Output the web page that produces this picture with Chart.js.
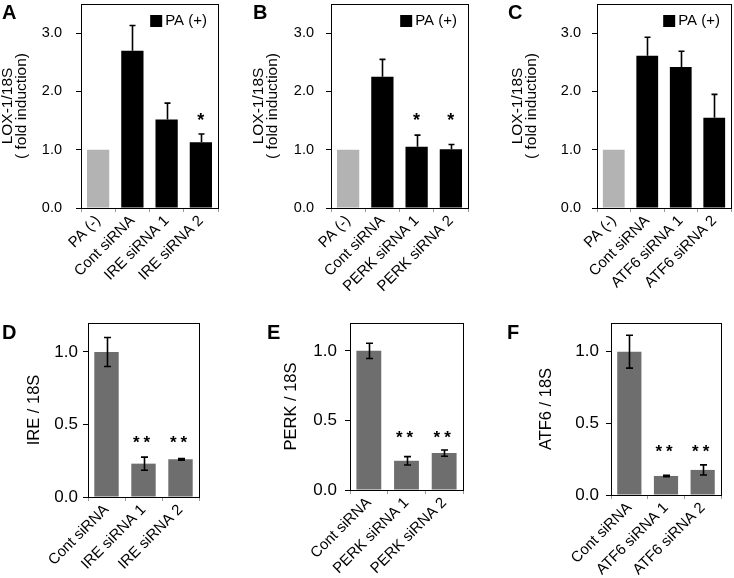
<!DOCTYPE html>
<html>
<head>
<meta charset="utf-8">
<script src="https://cdn.jsdelivr.net/npm/chart.js@4.4.1/dist/chart.umd.min.js"></script>
<style>
  body { margin: 0; background: #fff; }
  #wrap { position: relative; width: 734px; height: 578px; overflow: hidden; font-family: "Liberation Sans", Arial, sans-serif; }
  canvas { position: absolute; }
  .letter { position: absolute; font: bold 20px "Liberation Sans", Arial, sans-serif; color: #000; line-height: 20px; }
</style>
</head>
<body>
<div id="wrap">
  <canvas id="cA" width="240" height="300" style="left:0;top:0"></canvas>
  <canvas id="cB" width="245" height="300" style="left:240px;top:0"></canvas>
  <canvas id="cC" width="249" height="300" style="left:485px;top:0"></canvas>
  <canvas id="cD" width="240" height="278" style="left:0;top:300px"></canvas>
  <canvas id="cE" width="244" height="278" style="left:240px;top:300px"></canvas>
  <canvas id="cF" width="250" height="278" style="left:484px;top:300px"></canvas>
  <div class="letter" style="left:2px;top:2px">A</div>
  <div class="letter" style="left:253px;top:2px">B</div>
  <div class="letter" style="left:508px;top:2px">C</div>
  <div class="letter" style="left:2px;top:322px">D</div>
  <div class="letter" style="left:267px;top:322px">E</div>
  <div class="letter" style="left:507px;top:322px">F</div>
</div>
<script>
// 数据
const labelsA = ['PA (-)', 'Cont siRNA', 'IRE siRNA 1', 'IRE siRNA 2'];
const valuesA = [1.0, 2.70, 1.52, 1.13];
const errorsA = [0, 0.43, 0.28, 0.14];
const starsA = ['', '', '', '*'];

const labelsB = ['PA (-)', 'Cont siRNA', 'PERK siRNA 1', 'PERK siRNA 2'];
const valuesB = [1.0, 2.25, 1.05, 1.01];
const errorsB = [0, 0.30, 0.20, 0.08];
const starsB = ['', '', '*', '*'];

const labelsC = ['PA (-)', 'Cont siRNA', 'ATF6 siRNA 1', 'ATF6 siRNA 2'];
const valuesC = [1.0, 2.61, 2.42, 1.55];
const errorsC = [0, 0.32, 0.27, 0.40];
const starsC = ['', '', '', ''];

const labelsD = ['Cont siRNA', 'IRE siRNA 1', 'IRE siRNA 2'];
const valuesD = [1.0, 0.23, 0.26];
const errorsD = [0.10, 0.045, 0.006];
const starsD = ['', '**', '**'];

const labelsE = ['Cont siRNA', 'PERK siRNA 1', 'PERK siRNA 2'];
const valuesE = [1.0, 0.21, 0.265];
const errorsE = [0.055, 0.03, 0.022];
const starsE = ['', '**', '**'];

const labelsF = ['Cont siRNA', 'ATF6 siRNA 1', 'ATF6 siRNA 2'];
const valuesF = [1.0, 0.133, 0.175];
const errorsF = [0.115, 0.005, 0.035];
const starsF = ['', '**', '**'];

const topTicks = [0, 1, 2, 3];
const bottomTicks = [0, 0.5, 1.0];

const FONT = '"Liberation Sans", Arial, sans-serif';

// 外框 + 图例
const framePlugin = {
    id: 'frame',
    afterDraw(chart, args, opts) {
        const a = chart.chartArea;
        const ctx = chart.ctx;
        ctx.save();
        ctx.strokeStyle = '#000';
        ctx.lineWidth = 1;
        ctx.strokeRect(Math.round(a.left) + 0.5, Math.round(a.top) + 0.5, Math.round(a.right - a.left), Math.round(a.bottom - a.top));
        if (opts.legend) {
            ctx.font = '15px ' + FONT;
            ctx.fillStyle = '#000';
            ctx.textAlign = 'right';
            ctx.textBaseline = 'middle';
            const tx = a.right - 11;
            const ty = a.top + 17;
            ctx.fillText(opts.legend, tx, ty);
            const w = ctx.measureText(opts.legend).width;
            ctx.fillRect(tx - w - 3 - 12, ty - 6, 12, 12);
        }
        ctx.restore();
    }
};

// 误差线和星号
const errorBarPlugin = {
    id: 'errorBars',
    afterDatasetsDraw(chart, args, opts) {
        const meta = chart.getDatasetMeta(0);
        const y = chart.scales.y;
        const ctx = chart.ctx;
        const data = chart.data.datasets[0].data;
        ctx.save();
        ctx.strokeStyle = '#000';
        ctx.lineWidth = opts.lineWidth;
        meta.data.forEach((bar, i) => {
            const e = opts.errors[i];
            if (!e) return;
            const v = data[i];
            const top = y.getPixelForValue(v + e);
            const bottom = opts.twoSided ? y.getPixelForValue(v - e) : bar.y;
            const x = Math.round(bar.x) + 0.5;
            const c = opts.cap / 2;
            ctx.beginPath();
            ctx.moveTo(x, top);
            ctx.lineTo(x, bottom);
            ctx.moveTo(x - c, top);
            ctx.lineTo(x + c, top);
            if (opts.twoSided) {
                ctx.moveTo(x - c, bottom);
                ctx.lineTo(x + c, bottom);
            }
            ctx.stroke();
        });
        ctx.fillStyle = '#000';
        ctx.font = opts.starFont;
        ctx.textAlign = 'center';
        ctx.textBaseline = 'middle';
        ctx.letterSpacing = opts.starSpacing || '0px';
        meta.data.forEach((bar, i) => {
            const s = opts.stars[i];
            if (!s) return;
            ctx.fillText(s, bar.x, y.getPixelForValue(opts.starLevel));
        });
        ctx.restore();
    }
};

function makePanel(id, p) {
    const ctx = document.getElementById(id).getContext('2d');
    return new Chart(ctx, {
        type: 'bar',
        data: {
            labels: p.labels,
            datasets: [{
                label: 'PA (+)',
                data: p.values,
                backgroundColor: p.colors,
                borderWidth: 0,
                categoryPercentage: 1.0,
                barPercentage: p.barPct
            }]
        },
        options: {
            responsive: false,
            animation: false,
            devicePixelRatio: 1,
            layout: { padding: p.padding },
            plugins: {
                tooltip: { enabled: false },
                legend: { display: false },
                frame: { legend: p.legend },
                errorBars: {
                    errors: p.errors,
                    twoSided: p.twoSided,
                    stars: p.stars,
                    starLevel: p.starLevel,
                    starFont: p.starFont,
                    starSpacing: p.starSpacing,
                    lineWidth: 1.6,
                    cap: p.cap
                }
            },
            scales: {
                x: {
                    grid: { drawOnChartArea: false, drawTicks: true, tickLength: 4, color: '#999', offset: true },
                    border: { color: '#000', width: 1 },
                    ticks: {
                        color: '#000',
                        font: { family: FONT, size: p.xFont },
                        maxRotation: 45,
                        minRotation: 45,
                        autoSkip: false,
                        padding: 0
                    },
                    afterFit: s => { s.height = p.xHeight; s.paddingLeft = 0; s.paddingRight = 0; }
                },
                y: {
                    min: 0,
                    max: p.yMax,
                    afterBuildTicks: s => { s.ticks = p.ticks.map(v => ({ value: v })); },
                    grid: { drawOnChartArea: false, drawTicks: true, tickLength: 5, color: '#000' },
                    border: { color: '#000', width: 1 },
                    ticks: {
                        color: '#000',
                        font: { family: FONT, size: p.yFont },
                        padding: p.tickPad,
                        callback: v => Number(v).toFixed(1)
                    },
                    title: {
                        display: true,
                        text: p.title,
                        color: '#000',
                        font: { family: FONT, size: p.titleFont, lineHeight: p.titleLH },
                        padding: { top: p.titlePad, bottom: 0 }
                    },
                    afterFit: s => { s.width = p.yWidth; s.paddingTop = 0; s.paddingBottom = 0; }
                }
            }
        },
        plugins: [framePlugin, errorBarPlugin]
    });
}

const topColors = ['#b3b3b3', '#000000', '#000000', '#000000'];
const bottomColors = ['#6e6e6e', '#6e6e6e', '#6e6e6e'];
const topTitle = ['LOX-1/18S', '( fold induction)'];

const topCommon = {
    colors: topColors, barPct: 0.65, twoSided: false, cap: 6,
    yMax: 3.5, ticks: topTicks, xHeight: 92, xFont: 15, yFont: 14.5,
    titleFont: 15.5, titleLH: 0.9, titlePad: 0,
    title: topTitle, legend: 'PA (+)', starLevel: 1.49, starFont: 'bold 18px ' + FONT
};
const bottomCommon = {
    colors: bottomColors, barPct: 0.66, twoSided: true, cap: 7, legend: '',
    yMax: 1.2, ticks: bottomTicks, xFont: 15, yFont: 17,
    titleFont: 16.5, titleLH: 1.0, titlePad: 4,
    starFont: 'bold 17px ' + FONT, starSpacing: '4px'
};

makePanel('cA', Object.assign({}, topCommon, {
    labels: labelsA, values: valuesA, errors: errorsA, stars: starsA,
    padding: { left: 1, top: 4, right: 22, bottom: 0 }, yWidth: 80, tickPad: 14
}));
makePanel('cB', Object.assign({}, topCommon, {
    labels: labelsB, values: valuesB, errors: errorsB, stars: starsB,
    padding: { left: 12, top: 4, right: 17, bottom: 0 }, yWidth: 79, tickPad: 12
}));
makePanel('cC', Object.assign({}, topCommon, {
    labels: labelsC, values: valuesC, errors: errorsC, stars: starsC,
    padding: { left: 26, top: 4, right: 3, bottom: 0 }, yWidth: 86, tickPad: 11
}));
makePanel('cD', Object.assign({}, bottomCommon, {
    labels: labelsD, values: valuesD, errors: errorsD, stars: starsD, starLevel: 0.37,
    title: 'IRE / 18S', xHeight: 81,
    padding: { left: 22, top: 23, right: 41, bottom: 0 }, yWidth: 66, tickPad: 5
}));
makePanel('cE', Object.assign({}, bottomCommon, {
    labels: labelsE, values: valuesE, errors: errorsE, stars: starsE, starLevel: 0.37,
    title: 'PERK / 18S', xHeight: 88,
    padding: { left: 39, top: 23, right: 21, bottom: 0 }, yWidth: 71, tickPad: 8
}));
makePanel('cF', Object.assign({}, bottomCommon, {
    labels: labelsF, values: valuesF, errors: errorsF, stars: starsF, starLevel: 0.295,
    title: 'ATF6 / 18S', xHeight: 83,
    padding: { left: 50, top: 23, right: 13, bottom: 0 }, yWidth: 77, tickPad: 7
}));
</script>
</body>
</html>
